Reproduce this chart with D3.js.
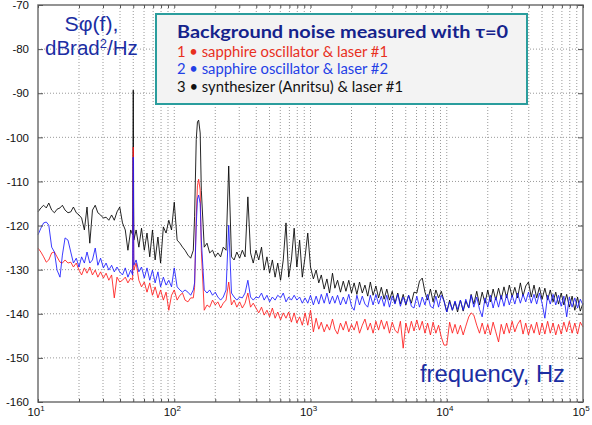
<!DOCTYPE html>
<html><head><meta charset="utf-8">
<script src="https://cdn.jsdelivr.net/npm/d3@7"></script>
<style>body{margin:0;background:#fff;} svg{display:block}</style>
</head><body><svg id="c" width="592" height="425"></svg>
<script>
// ---------- DATA ----------
const freq = [
 10,10.5,11,11.5,12,12.6,13.2,13.8,14.5,15.1,15.8,16.6,17.4,18.2,19.1,20,20.9,21.9,22.9,24,25.1,26.3,27.5,28.8,30.2,31.6,33.1,34.7,36.3,38,39.8,41.7,43.7,45.7,47.9,49.5,50,50.5,52.5,55,57.5,60.3,63.1,66.1,69.2,72.4,75.9,79.4,83.2,87.1,91.2,95.5,
 100,105,110,115,120,126,132,138,141,145,148,151,155,158,166,174,182,191,200,209,219,229,240,251,263,275,288,302,316,331,347,363,380,398,417,437,457,479,501,525,550,575,603,631,661,692,724,759,794,832,871,912,955,
 1000,1050,1100,1150,1200,1260,1320,1380,1450,1510,1580,1660,1740,1820,1910,2000,2090,2190,2290,2400,2510,2630,2750,2880,3020,3160,3310,3470,3630,3800,3980,4170,4370,4570,4790,5010,5250,5500,5750,6030,6310,6610,6920,7240,7590,7940,8320,8710,9120,9550,
 10000,10500,11000,11500,12000,12600,13200,13800,14500,15100,15800,16600,17400,18200,19100,20000,20900,21900,22900,24000,25100,26300,27500,28800,30200,31600,33100,34700,36300,38000,39800,41700,43700,45700,47900,50100,52500,55000,57500,60300,63100,66100,69200,72400,75900,79400,83200,87100,91200,95500,100000
];
// 1: sapphire oscillator & laser #1 (red)
const series1 = [
 -125.1,-126.0,-127.1,-128.3,-127.8,-126.2,-126.0,-127.1,-128.3,-128.5,
 -127.8,-128.5,-128.3,-129.4,-128.5,-130.1,-131.2,-129.6,-130.8,-129.4,
 -131.2,-130.1,-131.7,-130.5,-131.9,-130.8,-132.4,-131.2,-136.4,-131.7,
 -132.8,-132.4,-131.7,-133.0,-131.9,-132.4,-102.2,-130.1,
 -128.5,-132.4,-133.9,-132.8,-135.1,-133.0,-135.8,-133.9,-136.4,-134.6,-136.9,-135.1,-139.2,-135.8,
 -134.6,-136.9,-135.8,-135.3,-136.9,-137.3,-136.4,-136.4,-134.0,-118.0,-111.0,-109.5,
 -112.0,-125.6,-139.2,-138.0,-138.5,-136.9,-138.0,-137.3,-138.7,-137.6,
 -136.9,-132.8,-138.0,-136.9,-138.5,-137.3,-138.7,-137.6,-135.3,-138.5,
 -137.6,-138.7,-139.8,-138.5,-140.3,-139.2,-140.7,-138.7,-141.0,-139.6,
 -141.4,-139.8,-141.0,-139.6,-141.9,-139.8,-142.1,-140.7,-142.6,-139.8,-142.6,
 -139.2,-144.1,-141.0,-143.5,-141.9,-144.1,-142.4,-143.7,-141.2,-143.5,
 -144.6,-142.1,-143.7,-141.7,-144.1,-142.4,-143.7,-141.7,-144.4,-142.6,
 -141.2,-143.7,-142.1,-144.4,-141.7,-143.7,-141.4,-143.5,-141.7,-144.4,
 -141.9,-143.7,-144.4,-141.7,-147.8,-142.1,-144.4,-141.7,-143.9,-141.4,
 -143.7,-141.7,-144.4,-142.1,-144.8,-141.9,-144.4,-142.6,-145.3,-147.1,
 -147.1,-141.9,-144.4,-142.4,-144.6,-142.6,-144.8,-142.8,-140.7,-139.8,
 -140.3,-142.6,-144.4,-142.1,-144.6,-142.4,-144.8,-141.9,-144.1,-146.4,
 -142.4,-144.6,-142.1,-144.4,-141.7,-144.1,-142.4,-141.4,-144.6,-142.1,
 -144.8,-142.4,-144.4,-141.9,-144.8,-142.1,-144.6,-141.7,-144.4,-142.1,
 -144.8,-142.4,-144.6,-141.9,-144.1,-141.7,-144.4,-142.1,-144.6,-141.9,-143.0
];
// 2: sapphire oscillator & laser #2 (blue)
const series2 = [
 -122.1,-120.6,-119.4,-119.2,-119.9,-124.9,-126.0,-130.1,-131.7,-126.7,
 -122.8,-123.3,-126.0,-128.5,-127.4,-129.4,-127.1,-128.5,-126.0,-128.5,
 -127.8,-125.1,-129.0,-127.4,-129.6,-128.5,-130.1,-129.0,-130.5,-129.4,
 -130.5,-131.2,-129.6,-131.7,-130.1,-131.2,-104.5,-129.0,
 -127.8,-130.5,-129.4,-131.9,-129.6,-132.4,-130.1,-133.0,-130.5,-133.9,-131.7,-133.5,-132.4,-133.9,
 -129.6,-133.9,-134.6,-135.1,-134.6,-135.1,-135.8,-134.6,-133.0,-120.0,-114.0,-113.1,
 -115.0,-123.3,-134.6,-135.3,-134.6,-135.8,-135.1,-136.2,-136.9,-136.2,
 -134.6,-119.9,-135.3,-136.2,-136.9,-136.2,-136.4,-135.3,-132.4,-136.2,
 -136.9,-136.2,-136.4,-135.3,-136.9,-135.8,-137.3,-136.2,-136.9,-135.8,
 -136.4,-135.3,-137.3,-136.2,-136.9,-135.8,-136.9,-136.2,-137.6,-136.4,-137.6,
 -135.8,-138.0,-136.0,-137.8,-135.6,-137.6,-135.3,-137.8,-136.0,-137.6,
 -135.8,-138.0,-136.2,-137.8,-135.6,-138.3,-139.2,-135.8,-138.0,-136.0,
 -137.8,-138.5,-135.8,-138.0,-135.6,-137.8,-136.0,-138.3,-135.8,-138.5,
 -136.0,-137.8,-135.6,-138.3,-136.2,-137.8,-135.8,-138.3,-138.7,-136.0,
 -138.5,-136.2,-138.0,-135.6,-138.3,-138.7,-136.0,-138.5,-135.8,-137.1,
 -139.6,-137.3,-139.2,-137.1,-139.0,-136.9,-139.2,-136.7,-138.7,-135.8,
 -138.5,-136.2,-139.0,-140.7,-136.4,-138.5,-135.8,-138.7,-136.2,-138.5,
 -135.8,-138.3,-135.6,-138.0,-135.8,-137.8,-135.3,-137.6,-135.6,-137.3,
 -135.1,-137.6,-135.6,-137.8,-135.3,-137.6,-141.0,-135.8,-137.8,-135.6,
 -138.0,-135.8,-138.3,-136.0,-140.7,-136.2,-138.5,-136.4,-138.7,-136.7,-138.0
];
// 3: synthesizer (Anritsu) & laser #1 (black)
const series3 = [
 -116.9,-116.0,-115.4,-116.0,-114.9,-116.5,-117.1,-116.3,-116.0,-115.4,
 -116.5,-117.1,-116.9,-115.8,-117.1,-117.6,-118.3,-121.0,-115.8,-124.0,
 -116.5,-115.4,-117.1,-117.6,-118.3,-118.1,-118.8,-117.6,-118.8,-116.9,
 -115.8,-119.4,-121.0,-125.6,-121.0,-122.1,-89.3,-123.3,
 -121.0,-124.9,-120.6,-125.6,-121.7,-127.1,-121.0,-127.8,-122.6,-128.5,-120.3,-121.7,-118.8,-121.0,
 -114.7,-123.3,-124.0,-124.9,-125.6,-126.7,-127.4,-125.6,-118.0,-100.5,-96.5,-96.1,
 -99.0,-112.0,-124.9,-124.0,-126.2,-125.6,-127.1,-126.2,-127.1,-124.9,
 -125.6,-106.5,-127.1,-127.8,-126.0,-127.4,-125.6,-127.1,-113.5,-126.2,
 -128.5,-125.6,-127.8,-124.9,-130.1,-127.1,-130.8,-127.8,-131.7,-128.5,
 -132.4,-127.8,-119.4,-131.7,-127.8,-120.6,-129.4,-123.3,-131.7,-127.1,-121.7,
 -129.4,-132.1,-130.1,-133.0,-131.2,-134.4,-132.1,-135.3,-130.8,-134.2,
 -132.4,-135.1,-132.6,-134.9,-132.4,-135.3,-133.0,-135.6,-132.8,-135.3,
 -133.5,-136.0,-132.8,-135.8,-133.7,-136.4,-134.0,-136.7,-134.4,-136.9,
 -134.9,-137.6,-135.3,-137.8,-135.6,-138.0,-135.8,-137.6,-135.1,-135.3,
 -132.6,-131.9,-135.1,-136.9,-134.4,-137.3,-134.6,-136.4,-134.9,-137.1,
 -139.6,-136.9,-139.2,-137.3,-139.6,-136.9,-139.4,-137.1,-138.7,-135.6,
 -137.8,-134.9,-138.0,-135.1,-137.6,-134.6,-137.3,-134.4,-136.9,-134.2,
 -136.7,-133.9,-136.4,-133.5,-136.2,-134.0,-136.4,-133.0,-136.0,-133.7,
 -132.8,-136.2,-133.5,-136.4,-134.0,-136.7,-134.2,-136.9,-134.6,-137.3,
 -135.1,-137.8,-135.3,-138.0,-135.6,-138.5,-136.0,-139.2,-136.2,-139.4,-137.6
];
const yTickValues = [-70,-80,-90,-100,-110,-120,-130,-140,-150,-160];
const xTickValues = [10,100,1000,10000,100000];
const xTickExponents = ["1","2","3","4","5"];
const legendTitle = "Background noise measured with \u03C4=0";
const legendLabels = ["1 \u2022 sapphire oscillator & laser #1","2 \u2022 sapphire oscillator & laser #2","3 \u2022 synthesizer (Anritsu) & laser #1"];
const seriesColors = ["#ff1a1a","#1a1aff","#000000"];
const legendColors = ["#e8301e","#2340e6","#111111"];

// ---------- CHART ----------
const svg = d3.select("#c");
const L = 38, R = 583, T = 5, B = 402;
const x = d3.scaleLog().domain([10,100000]).range([L,R]);
const y = d3.scaleLinear().domain([-160,-70]).range([B,T]);
const sans = "'Liberation Sans', Arial, Helvetica, sans-serif";

// grid
const minorTicks = x.ticks();
svg.append("g").selectAll("line").data(minorTicks.filter(t=>t>10&&t<100000)).join("line")
  .attr("x1",d=>x(d)).attr("x2",d=>x(d)).attr("y1",T).attr("y2",B)
  .attr("stroke","#999").attr("stroke-width",1).attr("stroke-dasharray","1,2");
svg.append("g").selectAll("line").data(yTickValues.filter(v=>v>-160&&v<-70)).join("line")
  .attr("x1",L).attr("x2",R).attr("y1",d=>y(d)).attr("y2",d=>y(d))
  .attr("stroke","#999").attr("stroke-width",1).attr("stroke-dasharray","1,2");

// series
const line = d3.line().x((d,i)=>x(freq[i])).y(d=>y(d));
const order = [[series3,2],[series1,0],[series2,1]];
const gLines = svg.append("g");
order.forEach(([s,ci])=>{
  gLines.append("path").datum(s).attr("d",line).attr("fill","none")
    .attr("stroke",seriesColors[ci]).attr("stroke-width",1).attr("stroke-opacity",0.85)
    .attr("stroke-linejoin","round");
});

// axes box
svg.append("rect").attr("x",L).attr("y",T).attr("width",R-L).attr("height",B-T)
  .attr("fill","none").attr("stroke","#707070").attr("stroke-width",1.5);

// y axis (left) with inward ticks
const yAxisL = d3.axisLeft(y).tickValues(yTickValues).tickSize(-5).tickPadding(9).tickFormat(d3.format("d"));
const gy = svg.append("g").attr("transform",`translate(${L},0)`).call(yAxisL);
gy.select(".domain").remove();
gy.selectAll(".tick line").attr("stroke","#555");
gy.selectAll("text").attr("font-family",sans).attr("font-size",11.5).attr("fill","#111").text(d=>String(d));
const yAxisR = d3.axisRight(y).tickValues(yTickValues).tickSize(-5).tickFormat("");
const gyr = svg.append("g").attr("transform",`translate(${R},0)`).call(yAxisR);
gyr.select(".domain").remove(); gyr.selectAll(".tick line").attr("stroke","#555");

// x axis with inward ticks
const xAxisB = d3.axisBottom(x).tickValues(minorTicks).tickSize(-3).tickFormat("");
const gx = svg.append("g").attr("transform",`translate(0,${B})`).call(xAxisB);
gx.select(".domain").remove(); gx.selectAll(".tick line").attr("stroke","#555");
const xAxisT = d3.axisTop(x).tickValues(minorTicks).tickSize(-3).tickFormat("");
const gxt = svg.append("g").attr("transform",`translate(0,${T})`).call(xAxisT);
gxt.select(".domain").remove(); gxt.selectAll(".tick line").attr("stroke","#555");
const xl = svg.append("g").selectAll("text").data(xTickValues).join("text")
  .attr("x",d=>x(d)-2).attr("y",416).attr("text-anchor","middle")
  .attr("font-family",sans).attr("font-size",11.5).attr("fill","#111");
xl.append("tspan").text("10");
xl.append("tspan").attr("dy",-5).attr("font-size",8).text((d,i)=>xTickExponents[i]);

// legend
const lg = svg.append("g");
lg.append("rect").attr("x",156).attr("y",14).attr("width",371).attr("height",90)
  .attr("fill","#f3f3f3").attr("stroke","#2a9d9d").attr("stroke-width",2);
const lfont = "Lato, 'Open Sans', sans-serif";
lg.append("text").attr("x",177).attr("y",38).attr("font-family",lfont).attr("font-weight","bold")
  .attr("font-size",16.5).attr("fill","#15238c").attr("textLength",331).attr("lengthAdjust","spacingAndGlyphs")
  .text(legendTitle);
const lw = [211,211,226];
const lyPos = [57,74,92];
legendLabels.forEach((t,i)=>{
  lg.append("text").attr("x",177).attr("y",lyPos[i]).attr("font-family",lfont)
    .attr("font-size",14.5).attr("fill",legendColors[i]).attr("textLength",lw[i]).attr("lengthAdjust","spacingAndGlyphs").text(t);
});

// axis titles
const tcol = "#1b2ea3";
svg.append("text").attr("x",91.5).attr("y",31).attr("text-anchor","middle").attr("font-family",sans)
  .attr("font-size",21).attr("fill",tcol).attr("textLength",54).attr("lengthAdjust","spacingAndGlyphs").text("S\u03C6(f),");
const yl2 = svg.append("text").attr("x",45).attr("y",55).attr("font-family",sans)
  .attr("font-size",20.5).attr("fill",tcol);
yl2.append("tspan").text("dBrad");
yl2.append("tspan").attr("dy",-7).attr("font-size",13).text("2");
yl2.append("tspan").attr("dy",7).text("/Hz");
svg.append("text").attr("x",420).attr("y",382).attr("font-family",sans)
  .attr("font-size",23).attr("fill",tcol).attr("textLength",145).attr("lengthAdjust","spacingAndGlyphs").text("frequency, Hz");
</script>
</body></html>
